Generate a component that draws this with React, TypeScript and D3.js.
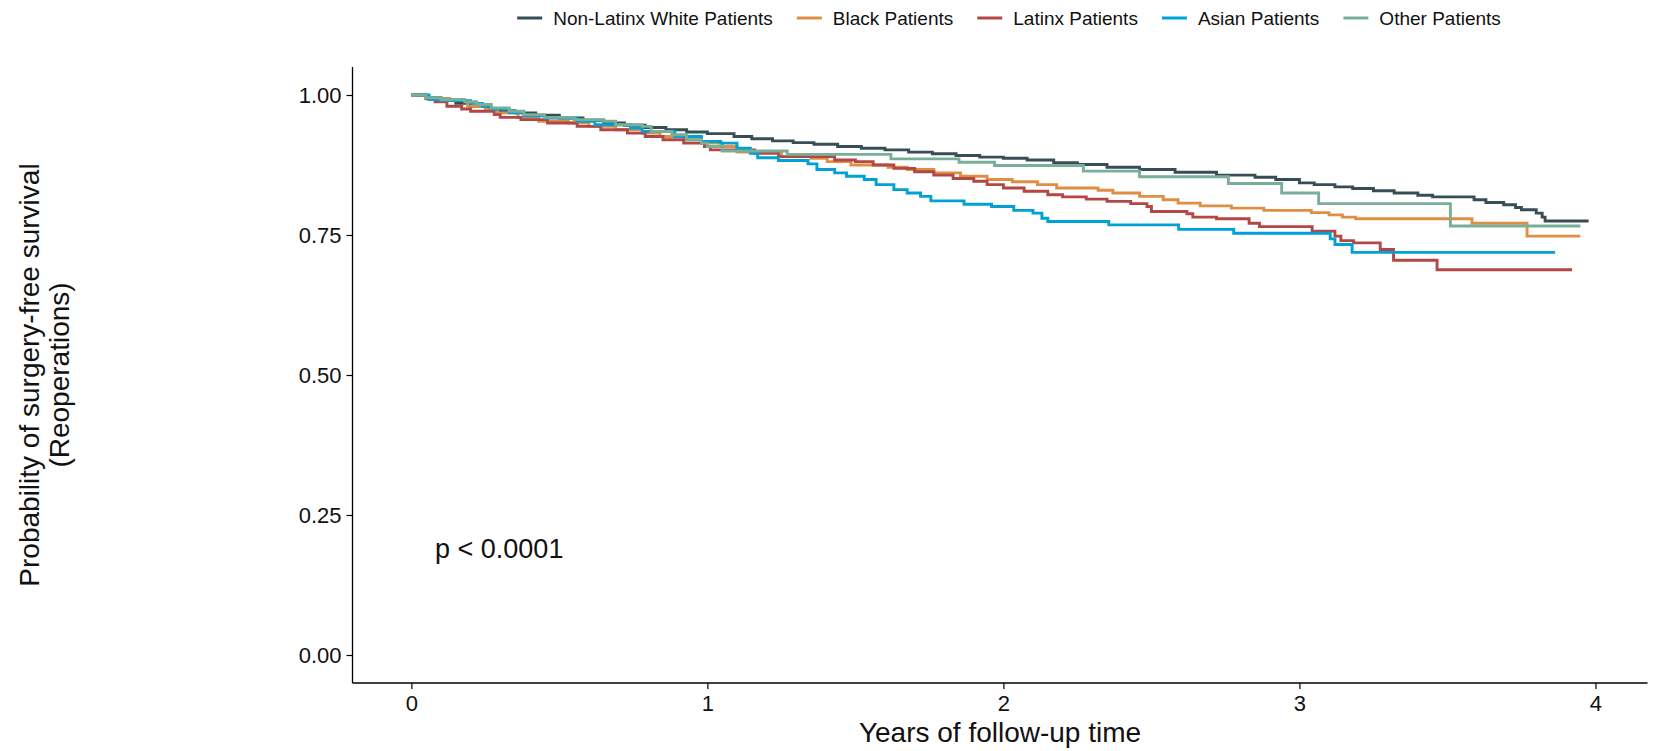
import * as d3 from 'd3';
import React, { useEffect, useRef } from 'react';

type Pt = [number, number];

// group names and colours (JAMA palette)
const groups = ['Non-Latinx White Patients', 'Black Patients', 'Latinx Patients', 'Asian Patients', 'Other Patients'];
const colors = ['#374E55', '#DF8F44', '#B24745', '#00A1D5', '#79AF97'];

// Kaplan-Meier step points: [years, survival]
const white: Pt[] = [
  [0, 1], [0.05, 0.995], [0.1, 0.99], [0.15, 0.985], [0.2, 0.98], [0.25, 0.976], [0.3, 0.972], [0.35, 0.968],
  [0.42, 0.964], [0.5, 0.959], [0.58, 0.955], [0.65, 0.95], [0.72, 0.946], [0.79, 0.942], [0.86, 0.938],
  [0.93, 0.934], [1.0, 0.931], [1.09, 0.926], [1.15, 0.922], [1.22, 0.918], [1.29, 0.915], [1.36, 0.912],
  [1.44, 0.908], [1.52, 0.905], [1.6, 0.902], [1.68, 0.898], [1.76, 0.895], [1.84, 0.892], [1.92, 0.889],
  [2.0, 0.887], [2.08, 0.884], [2.17, 0.879], [2.25, 0.876], [2.35, 0.871], [2.46, 0.867], [2.58, 0.862],
  [2.72, 0.857], [2.85, 0.853], [2.92, 0.849], [3.0, 0.843], [3.05, 0.84], [3.12, 0.836], [3.18, 0.833],
  [3.25, 0.829], [3.32, 0.825], [3.4, 0.821], [3.45, 0.818], [3.59, 0.813], [3.63, 0.808], [3.69, 0.804],
  [3.73, 0.799], [3.75, 0.795], [3.8, 0.789], [3.82, 0.782], [3.83, 0.775], [3.977, 0.775],
];
const black: Pt[] = [
  [0, 1], [0.05, 0.994], [0.13, 0.99], [0.19, 0.98], [0.25, 0.974], [0.29, 0.968], [0.36, 0.96], [0.43, 0.953],
  [0.53, 0.95], [0.6, 0.944], [0.69, 0.938], [0.78, 0.932], [0.84, 0.926], [0.92, 0.92], [0.98, 0.914],
  [1.05, 0.908], [1.1, 0.898], [1.25, 0.89], [1.35, 0.887], [1.405, 0.881], [1.485, 0.875], [1.61, 0.871],
  [1.675, 0.867], [1.765, 0.861], [1.855, 0.855], [1.945, 0.849], [2.03, 0.845], [2.115, 0.84], [2.18, 0.834],
  [2.32, 0.83], [2.37, 0.825], [2.46, 0.819], [2.54, 0.813], [2.59, 0.807], [2.665, 0.802], [2.77, 0.798],
  [2.88, 0.794], [3.04, 0.79], [3.1, 0.786], [3.145, 0.782], [3.19, 0.779], [3.583, 0.771], [3.769, 0.748],
  [3.949, 0.748],
];
const latinx: Pt[] = [
  [0, 1], [0.05, 0.993], [0.08, 0.988], [0.12, 0.98], [0.17, 0.975], [0.2, 0.971], [0.28, 0.965], [0.3, 0.96],
  [0.37, 0.956], [0.46, 0.95], [0.56, 0.944], [0.64, 0.938], [0.73, 0.932], [0.79, 0.926], [0.85, 0.92],
  [0.92, 0.914], [0.99, 0.908], [1.01, 0.902], [1.16, 0.896], [1.24, 0.89], [1.43, 0.884], [1.5, 0.881],
  [1.56, 0.875], [1.63, 0.869], [1.7, 0.863], [1.765, 0.857], [1.83, 0.851], [1.9, 0.846], [1.945, 0.84],
  [2.0, 0.834], [2.07, 0.828], [2.15, 0.822], [2.2, 0.818], [2.28, 0.814], [2.35, 0.81], [2.43, 0.806],
  [2.485, 0.801], [2.5, 0.792], [2.62, 0.788], [2.64, 0.782], [2.72, 0.779], [2.83, 0.771], [2.865, 0.765],
  [3.043, 0.757], [3.12, 0.748], [3.14, 0.74], [3.183, 0.736], [3.273, 0.724], [3.318, 0.705], [3.465, 0.688],
  [3.921, 0.688],
];
const asian: Pt[] = [
  [0, 1], [0.06, 0.992], [0.1, 0.99], [0.2, 0.985], [0.24, 0.98], [0.27, 0.975], [0.33, 0.968], [0.38, 0.963],
  [0.45, 0.959], [0.56, 0.953], [0.62, 0.947], [0.74, 0.941], [0.78, 0.935], [0.89, 0.926], [0.98, 0.917],
  [1.045, 0.914], [1.1, 0.905], [1.145, 0.896], [1.17, 0.888], [1.24, 0.883], [1.34, 0.877], [1.37, 0.867],
  [1.43, 0.861], [1.47, 0.855], [1.53, 0.849], [1.57, 0.84], [1.63, 0.831], [1.675, 0.825], [1.72, 0.819],
  [1.755, 0.811], [1.867, 0.805], [1.96, 0.801], [2.035, 0.794], [2.1, 0.789], [2.13, 0.78], [2.15, 0.774],
  [2.356, 0.768], [2.592, 0.76], [2.778, 0.753], [3.104, 0.743], [3.12, 0.733], [3.178, 0.719], [3.864, 0.719],
];
const other: Pt[] = [
  [0, 1], [0.05, 0.995], [0.1, 0.992], [0.18, 0.988], [0.22, 0.983], [0.27, 0.977], [0.33, 0.971], [0.38, 0.965],
  [0.45, 0.96], [0.55, 0.956], [0.65, 0.953], [0.69, 0.947], [0.78, 0.944], [0.81, 0.935], [0.88, 0.929],
  [0.93, 0.92], [0.98, 0.914], [1.0, 0.908], [1.05, 0.9], [1.27, 0.894], [1.62, 0.886], [1.85, 0.88],
  [1.97, 0.874], [2.27, 0.864], [2.46, 0.854], [2.76, 0.842], [2.94, 0.825], [3.065, 0.806], [3.51, 0.766],
  [3.949, 0.766],
];

const xTicks = [0, 1, 2, 3, 4];
const yTicks = [0, 0.25, 0.5, 0.75, 1];

const W = 1656;
const H = 751;
const FONT = '"Liberation Sans", Arial, sans-serif';

const App: React.FC = () => {
  const ref = useRef<SVGSVGElement | null>(null);

  useEffect(() => {
    if (!ref.current) return;
    const svg = d3.select(ref.current);
    svg.selectAll('*').remove();

    const series = [white, black, latinx, asian, other];
    const tMax = d3.max(series, s => d3.max(s, d => d[0]) ?? 0) ?? 0;
    const pad = tMax * 0.05;

    const left = 352.5, right = 1647.5, top = 67, bottom = 683;
    const x = d3.scaleLinear().domain([-pad, tMax + pad]).range([left, right]);
    const y = d3.scaleLinear().domain([-0.05, 1.05]).range([bottom, top]);

    const line = d3.line<Pt>()
      .x(d => x(d[0]))
      .y(d => y(d[1]))
      .curve(d3.curveStepAfter);

    // curves
    svg.append('g')
      .selectAll('path')
      .data(series)
      .enter()
      .append('path')
      .attr('d', d => line(d))
      .attr('fill', 'none')
      .attr('stroke', (_d, i) => colors[i])
      .attr('stroke-width', 2.9);

    // axes
    const yAxis = svg.append('g')
      .attr('transform', `translate(${left},0)`)
      .call(d3.axisLeft(y).tickValues(yTicks).tickFormat(d3.format('.2f')).tickSize(6).tickPadding(5));
    const xAxis = svg.append('g')
      .attr('transform', `translate(0,${bottom})`)
      .call(d3.axisBottom(x).tickValues(xTicks).tickFormat(d3.format('d')).tickSize(6).tickPadding(6));
    [xAxis, yAxis].forEach(a => {
      a.select('.domain').remove();
      a.selectAll('.tick line').attr('stroke', '#000').attr('stroke-width', 1.2);
      a.selectAll('.tick text').attr('fill', '#111').style('font-family', FONT).style('font-size', '22px');
    });
    // axis lines spanning the whole panel
    svg.append('line').attr('x1', left).attr('x2', left).attr('y1', top).attr('y2', bottom)
      .attr('stroke', '#000').attr('stroke-width', 1.3);
    svg.append('line').attr('x1', left).attr('x2', right).attr('y1', bottom).attr('y2', bottom)
      .attr('stroke', '#000').attr('stroke-width', 1.3);

    // axis titles
    svg.append('text')
      .attr('x', (left + right) / 2)
      .attr('y', 732)
      .attr('text-anchor', 'middle')
      .attr('dominant-baseline', 'central')
      .style('font-family', FONT)
      .style('font-size', '28px')
      .attr('fill', '#111')
      .text('Years of follow-up time');

    const yt = svg.append('text')
      .attr('transform', `translate(44,${(top + bottom) / 2}) rotate(-90)`)
      .attr('text-anchor', 'middle')
      .style('font-family', FONT)
      .style('font-size', '28px')
      .attr('fill', '#111');
    yt.append('tspan').attr('x', 0).attr('y', -15).attr('dominant-baseline', 'central')
      .text('Probability of surgery-free survival');
    yt.append('tspan').attr('x', 0).attr('y', 15).attr('dominant-baseline', 'central')
      .text('(Reoperations)');

    // p-value
    svg.append('text')
      .attr('x', x(0.08))
      .attr('y', y(0.19))
      .attr('dominant-baseline', 'central')
      .style('font-family', FONT)
      .style('font-size', '27px')
      .attr('fill', '#111')
      .text('p < 0.0001');

    // legend
    const keyW = 25, gap = 11, spacing = 24;
    const lg = svg.append('g');
    const items = groups.map((g, i) => {
      const item = lg.append('g');
      item.append('line')
        .attr('x1', 0).attr('x2', keyW).attr('y1', 0).attr('y2', 0)
        .attr('stroke', colors[i]).attr('stroke-width', 3);
      const t = item.append('text')
        .attr('x', keyW + gap)
        .attr('dominant-baseline', 'central')
        .style('font-family', FONT)
        .style('font-size', '19px')
        .attr('fill', '#111')
        .text(g);
      const w = (t.node() as SVGTextElement).getComputedTextLength();
      return { item, w: keyW + gap + w };
    });
    const total = d3.sum(items, d => d.w) + spacing * (items.length - 1);
    let cx = 1009 - total / 2;
    items.forEach(d => {
      d.item.attr('transform', `translate(${cx},18)`);
      cx += d.w + spacing;
    });
  }, []);

  return (
    <div style={{ position: 'absolute', left: 0, top: 0 }}>
      <svg ref={ref} width={W} height={H} style={{ display: 'block', background: '#fff' }} />
    </div>
  );
};

export default App;
